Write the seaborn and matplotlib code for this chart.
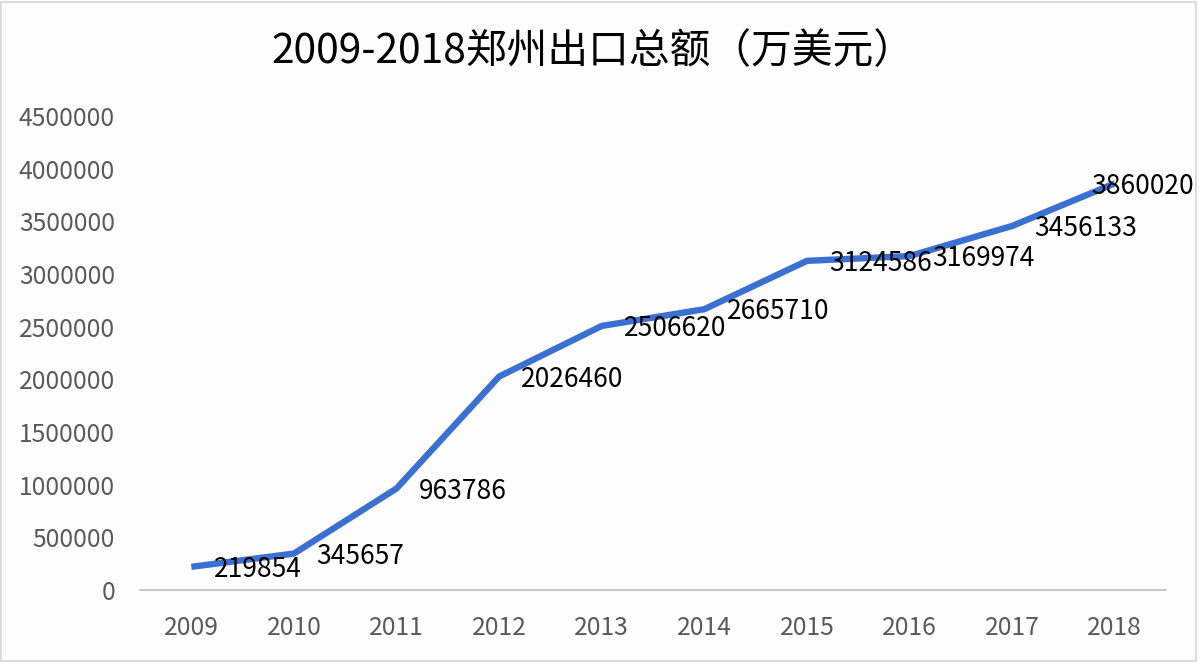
import matplotlib
matplotlib.use('Agg')
import matplotlib.pyplot as plt
import seaborn as sns
import pandas as pd

# data
years = ['2009', '2010', '2011', '2012', '2013', '2014', '2015', '2016', '2017', '2018']
exports = [219854, 345657, 963786, 2026460, 2506620, 2665710, 3124586, 3169974, 3456133, 3860020]
yticks = [0, 500000, 1000000, 1500000, 2000000, 2500000, 3000000, 3500000, 4000000, 4500000]
title = '2009-2018郑州出口总额（万美元）'

df = pd.DataFrame({'year': years, 'value': exports})

sns.set_theme(style='white')
plt.rcParams['font.family'] = ['Noto Sans CJK SC', 'DejaVu Sans']

fig = plt.figure(figsize=(12, 6.62), dpi=100)
fig.patch.set_facecolor('#fdfdfe')
ax = fig.add_axes([0.1167, 0.1088, 0.855, 0.716])
ax.set_facecolor('#fdfdfe')

sns.lineplot(x='year', y='value', data=df, ax=ax, color='#3b70d3', linewidth=4.6,
             sort=False, solid_capstyle='butt')

# data labels to the right of each point (last one pulled back inside the frame)
for i, (yr, v) in enumerate(zip(years, exports)):
    dx = 16 if i < len(years) - 1 else -17
    ax.annotate(str(v), xy=(i, v), xytext=(dx, -2), textcoords='offset points',
                ha='left', va='center', fontsize=19, color='black')

ax.set_xlim(-0.5, len(years) - 0.5)
ax.set_ylim(0, 4500000)
ax.set_yticks(yticks)
ax.set_yticklabels([str(t) for t in yticks])
ax.set_xlabel('')
ax.set_ylabel('')
ax.tick_params(axis='both', length=0, colors='#595959', labelsize=17.8)
ax.tick_params(axis='y', pad=18)
ax.tick_params(axis='x', pad=18)

sns.despine(ax=ax, left=True)
ax.spines['bottom'].set_color('#bfbfbf')
ax.spines['bottom'].set_linewidth(1.2)

fig.text(0.4945, 0.922, title, ha='center', va='center', fontsize=29.3, color='black')

# thin frame around the picture
frame = plt.Rectangle((0.001, 0.002), 0.996, 0.995, transform=fig.transFigure,
                      fill=False, edgecolor='#dcdcdc', linewidth=1.5)
fig.patches.append(frame)

fig.savefig('out.png', dpi=100, facecolor=fig.get_facecolor())
